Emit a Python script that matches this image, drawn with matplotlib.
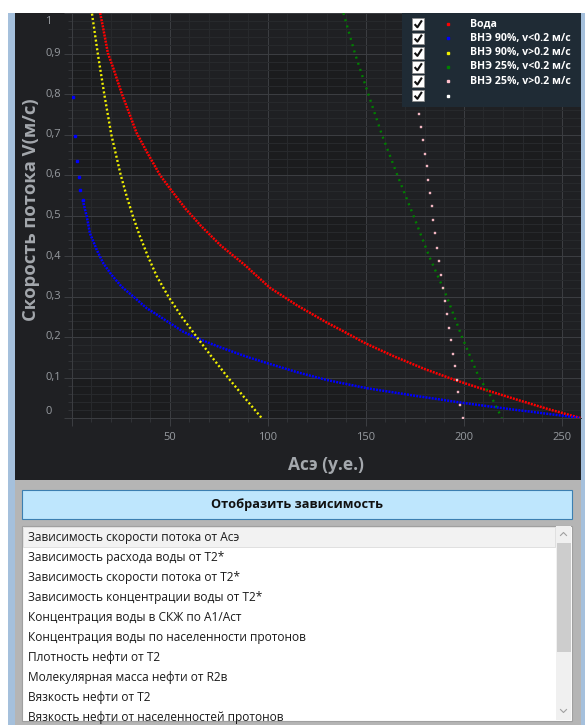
import matplotlib
matplotlib.use("Agg")
import matplotlib.pyplot as plt
import matplotlib.transforms as mtransforms
from matplotlib.patches import Rectangle
from matplotlib.ticker import MultipleLocator

plt.rcParams['font.family'] = ['Open Sans', 'DejaVu Sans']

# ---------------- data ----------------
series_names = ["Вода", "ВНЭ 90%, v<0.2 м/с", "ВНЭ 90%, v>0.2 м/с",
                "ВНЭ 25%, v<0.2 м/с", "ВНЭ 25%, v>0.2 м/с", ""]
series_colors = ["#ff0000", "#0000ff", "#f2f200", "#008000", "#ffc0cb", "#ffffff"]

water_x = [13.2, 14.5, 16.0, 18.5, 21.0, 25.6, 29.0, 33.0, 38.0, 45.0, 51.0, 58.0,
           66.0, 76.0, 88.0, 101.0, 115.0, 130.0, 139.0, 150.0, 165.0, 180.0,
           196.0, 210.0, 228.0, 243.0, 259.5]
water_v = [1.03, 1.0, 0.964, 0.9, 0.867, 0.8, 0.757, 0.705, 0.66, 0.6, 0.561, 0.517,
           0.474, 0.426, 0.379, 0.322, 0.278, 0.236, 0.213, 0.184, 0.151, 0.121,
           0.093, 0.071, 0.044, 0.022, 0.0]

e90_low_x = [0.5, 1.7, 2.6, 3.6, 4.4, 5.6, 7.7, 9.3, 12.8, 16.1, 20.4, 25.5, 31.4,
             38.3, 45.1, 50.2, 56.9, 63.8, 75.0, 90.0, 100.0, 115.0, 130.0, 150.0,
             175.0, 200.0, 225.0, 245.0, 259.5]
e90_low_v = [0.793, 0.696, 0.635, 0.596, 0.562, 0.538, 0.497, 0.456, 0.415, 0.382,
             0.353, 0.324, 0.300, 0.271, 0.250, 0.234, 0.213, 0.197, 0.176, 0.150,
             0.135, 0.113, 0.094, 0.074, 0.055, 0.037, 0.021, 0.009, 0.0]

e90_high_x = [9.0, 10.3, 13.3, 16.6, 20.2, 25.0, 27.9, 31.1, 34.7, 38.8, 43.4, 49.3,
              56.1, 63.8, 71.6, 79.7, 88.2, 96.9]
e90_high_v = [1.03, 1.0, 0.9, 0.8, 0.7, 0.6, 0.55, 0.5, 0.45, 0.4, 0.35, 0.3,
              0.25, 0.2, 0.15, 0.1, 0.05, 0.0]

e25_low_x = [138.6, 144.5, 151.3, 158.2, 166.1, 174.3, 182.3, 191.3, 199.1, 207.8,
             214.3, 219.4]
e25_low_v = [1.0, 0.9, 0.8, 0.7, 0.6, 0.5, 0.4, 0.3, 0.2, 0.1, 0.05, 0.0]

e25_high_x = [176.0, 177.0, 178.0, 179.0, 180.0, 181.0, 181.9, 182.8, 183.7, 184.5,
              185.5, 186.5, 187.4, 188.6, 189.6, 190.6, 191.5, 192.3, 193.7, 194.7,
              195.7, 196.6, 197.2, 198.3, 199.8]
e25_high_v = [0.783, 0.751, 0.718, 0.686, 0.653, 0.621, 0.588, 0.556, 0.523, 0.489,
              0.456, 0.420, 0.387, 0.354, 0.320, 0.290, 0.256, 0.223, 0.192, 0.159,
              0.128, 0.095, 0.063, 0.032, 0.0]

xtick_values = [0, 50, 100, 150, 200, 250]
xtick_labels = ["", "50", "100", "150", "200", "250"]
ytick_values = [0, 0.1, 0.2, 0.3, 0.4, 0.5, 0.6, 0.7, 0.8, 0.9, 1.0]
ytick_labels = ["0", "0,1", "0,2", "0,3", "0,4", "0,5", "0,6", "0,7", "0,8", "0,9", "1"]

x_title = "Асэ (у.е.)"
y_title = "Скорость потока V(м/с)"
button_text = "Отобразить зависимость"
list_items = [
    "Зависимость скорости потока от Асэ",
    "Зависимость расхода воды от T2*",
    "Зависимость скорости потока от T2*",
    "Зависимость концентрации воды от T2*",
    "Концентрация воды в СКЖ по A1/Aст",
    "Концентрация воды по населенности протонов",
    "Плотность нефти от T2",
    "Молекулярная масса нефти от R2в",
    "Вязкость нефти от T2",
    "Вязкость нефти от населенностей протонов",
]

# ---------------- figure / window ----------------
W, H, DPI = 585, 725, 100
fig = plt.figure(figsize=(W / DPI, H / DPI), dpi=DPI)
fig.patch.set_facecolor("white")

DARK = "#1f2023"
GRID_MAJOR = "#3b3d41"
GRID_MINOR = "#27292c"
TICK_TEXT = "#979ba0"
PX = 72.0 / DPI  # one pixel in points


def pix_axes(z):
    a = fig.add_axes([0, 0, 1, 1], zorder=z)
    a.set_xlim(0, W)
    a.set_ylim(H, 0)
    a.axis("off")
    a.patch.set_alpha(0)
    return a


def box(a, x0, y0, x1, y1, fc, ec="none", lw=0.0, z=1):
    r = Rectangle((x0, y0), x1 - x0, y1 - y0, facecolor=fc, edgecolor=ec,
                  linewidth=lw, zorder=z)
    a.add_patch(r)
    return r


bg = pix_axes(0)
box(bg, 8, 13, 15, H, "#a5c0dc")
box(bg, 581, 13, W, H, "#a5c0dc")
box(bg, 15, 13, 581, 480, DARK)
box(bg, 15, 480, 581, H, "#b5b5b5")

# ---------------- chart ----------------
ax_left, ax_right, ax_top, ax_bottom = 71.7, 581.0, 13.0, 418.0
ax = fig.add_axes([ax_left / W, (H - ax_bottom) / H,
                   (ax_right - ax_left) / W, (ax_bottom - ax_top) / H], zorder=1)
ax.set_facecolor(DARK)
ax.set_xlim(0, 259.8)
ax.set_ylim(0, 1.0)
ax.set_axisbelow(True)

# alternating darker cells between major grid lines
for ci in range(0, 6, 2):
    for ri in range(0, 10, 2):
        ax.add_patch(Rectangle((ci * 50, ri * 0.1), 50, 0.1, facecolor="#1b1c1e",
                               edgecolor="none", zorder=0))

ax.set_xticks(xtick_values, labels=xtick_labels)
ax.set_yticks(ytick_values, labels=[""] * len(ytick_values))
ax.xaxis.set_minor_locator(MultipleLocator(10))
ax.yaxis.set_minor_locator(MultipleLocator(0.02))
ax.grid(which="minor", color=GRID_MINOR, linewidth=PX)
ax.grid(which="major", color=GRID_MAJOR, linewidth=PX)
ax.tick_params(which="major", length=8 * PX, width=PX, color=GRID_MAJOR,
               labelcolor=TICK_TEXT, labelsize=8, pad=4.5)
ax.tick_params(which="minor", length=4 * PX, width=PX, color="#303236")
for s in ("top", "right"):
    ax.spines[s].set_visible(False)
for s in ("left", "bottom"):
    ax.spines[s].set_color(GRID_MAJOR)
    ax.spines[s].set_linewidth(PX)

# y tick labels, the two end labels pulled inside the frame
ylab_tr = ax.get_yaxis_transform()
for v, lab in zip(ytick_values, ytick_labels):
    dy = 0
    if v == ytick_values[-1]:
        dy = -9
    elif v == ytick_values[0]:
        dy = 7
    off = mtransforms.ScaledTranslation(0, dy / DPI, fig.dpi_scale_trans)
    ax.text((45.5 - ax_left) / (ax_right - ax_left), v, lab, transform=ylab_tr + off,
            ha="left", va="center", fontsize=8, color=TICK_TEXT)

ax.set_xlabel(x_title, fontsize=12.5, fontweight="bold", color="#a4a8ad")
ax.xaxis.set_label_coords(0.5, (ax_bottom - 465) / (ax_bottom - ax_top))
ax.xaxis.label.set_verticalalignment("center")
ax.set_ylabel(y_title, fontsize=13.2, fontweight="bold", color="#a4a8ad")
ax.yaxis.set_label_coords((31 - ax_left) / (ax_right - ax_left), 0.515)
ax.yaxis.label.set_verticalalignment("center")

dense = dict(lw=1.8, ls=(0, (0.8, 0.45)))
ax.plot(water_x, water_v, color=series_colors[0], zorder=3, **dense)
ax.plot(e90_low_x[:6], e90_low_v[:6], ls="none", marker="s", ms=1.5,
        color=series_colors[1], zorder=3)
ax.plot(e90_low_x[5:], e90_low_v[5:], color=series_colors[1], zorder=3, **dense)
ax.plot(e90_high_x, e90_high_v, color=series_colors[2], zorder=3,
        lw=1.7, ls=(0, (0.85, 1.0)))
ax.plot(e25_low_x, e25_low_v, color=series_colors[3], zorder=3,
        lw=1.7, ls=(0, (0.85, 1.9)))
ax.plot(e25_high_x, e25_high_v, ls="none", marker="s", ms=1.6,
        mfc=series_colors[4], mec="#e0aab4", mew=0.3, zorder=3)

# ---------------- legend panel ----------------
ui = pix_axes(3)
box(ui, 402, 13, 581, 107, "#1f2b35")
for i, (name, col) in enumerate(zip(series_names, series_colors)):
    yc = 24.0 + 14.3 * i
    box(ui, 412.3, yc - 5.8, 424.0, yc + 5.9, "white", "#8a8a8a", 0.5, z=2)
    ui.plot([414.6, 417.4, 421.9], [yc + 0.2, yc + 3.3, yc - 3.6], color="#111111",
            lw=1.5, solid_capstyle="butt", zorder=3)
    ui.plot([447.7], [yc], ls="none", marker="s", ms=1.6, color=col, zorder=3)
    ui.text(470, yc, name, fontsize=7.6, fontweight="bold", color="white",
            ha="left", va="center", zorder=3)

# ---------------- control panel ----------------
box(ui, 21.7, 490, 572, 519, "#bee6fd", "#3c7fb1", 0.8)
ui.text(297, 504.5, button_text, fontsize=9.2, fontweight="bold", color="#111111",
        ha="center", va="center")

list_box = box(ui, 21.7, 525.5, 572, 721, "white", "#a0a0a0", 0.8)
box(ui, 555.5, 526.3, 571.4, 720.3, "#f0f0f0")
box(ui, 556.5, 543, 570.5, 652, "#cdcdcd")
ui.plot([560.5, 563.5, 566.5], [535.5, 532.5, 535.5], color="#a0a0a0", lw=0.8)
ui.plot([560.5, 563.5, 566.5], [709.5, 712.5, 709.5], color="#a0a0a0", lw=0.8)
box(ui, 23, 527, 554.5, 547, "#f2f2f2", "#dcdcdc", 0.6)
for i, item in enumerate(list_items):
    t = ui.text(28, 537 + 20.1 * i, item, fontsize=8.6, color="#1a1a1a",
                ha="left", va="center")
    t.set_clip_path(list_box)

fig.savefig("out.png", dpi=DPI)
